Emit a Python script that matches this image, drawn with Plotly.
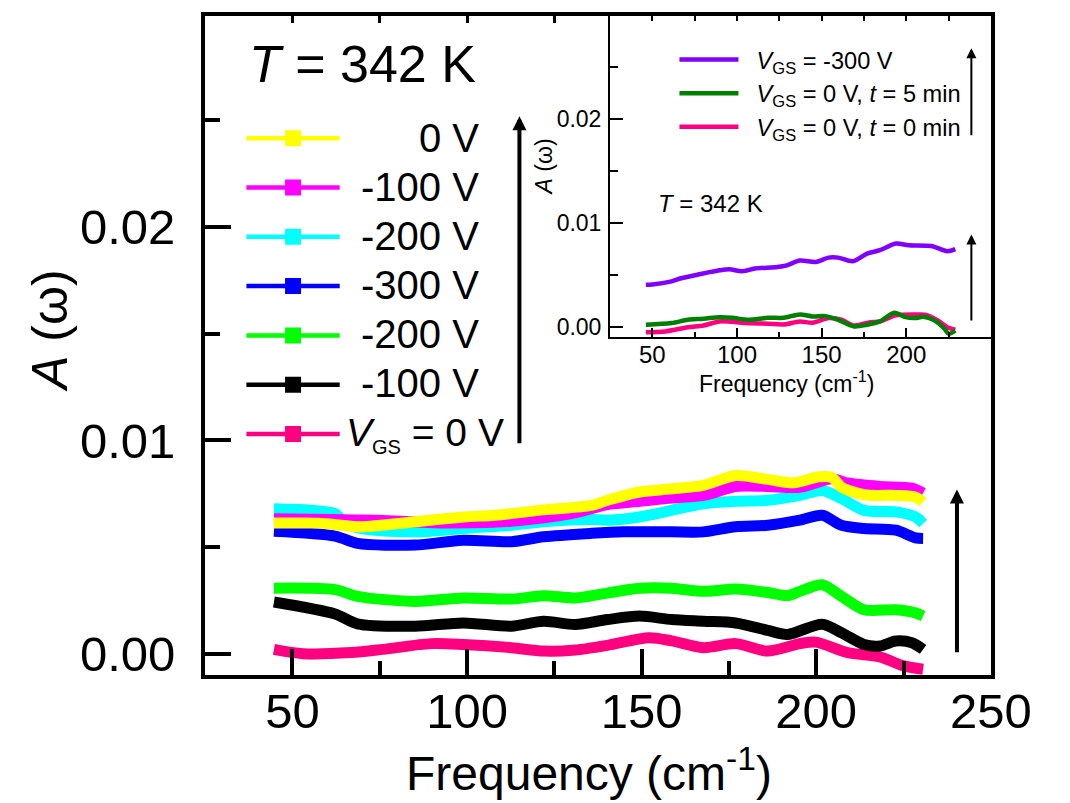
import plotly.graph_objects as go

W, H = 1070, 803
FONT = "Arial, Liberation Sans, sans-serif"

def fx(p):
    return p / W

def fy(p):
    return 1 - p / H

# ---------------- main panel data (frequency in cm^-1, A(omega)) ----------------
f_yellow = [44.7, 57.6, 64.0, 69.6, 85.1, 98.9, 108.1, 121.9, 135.6, 140.2, 149.4, 158.6, 167.7,
            176.9, 186.1, 193.5, 200.8, 204.5, 207.2, 213.7, 222.8, 228.4, 230.6]
a_yellow = [0.00612, 0.00612, 0.00602, 0.00595, 0.00618, 0.00641, 0.00649, 0.00674, 0.00695, 0.00719,
            0.00758, 0.00773, 0.00789, 0.00835, 0.00817, 0.00801, 0.00829, 0.00826, 0.00781, 0.00745,
            0.00742, 0.00734, 0.00711]

f_magenta = [44.7, 75.9, 94.3, 112.7, 131.0, 140.2, 149.4, 158.6, 167.7, 176.9, 186.1, 195.3, 204.5,
             209.0, 218.2, 227.4, 230.6]
a_magenta = [0.00632, 0.00624, 0.00613, 0.00621, 0.00660, 0.00699, 0.00714, 0.00730, 0.00742, 0.00784,
             0.00784, 0.00780, 0.00820, 0.00800, 0.00784, 0.00776, 0.00753]

f_cyan = [44.7, 62.2, 64.0, 68.6, 85.1, 98.9, 112.7, 121.9, 135.6, 140.2, 149.4, 158.6, 167.7, 176.9,
          186.1, 195.3, 201.7, 207.2, 213.7, 222.8, 228.4, 230.6]
a_cyan = [0.00679, 0.00657, 0.00630, 0.00590, 0.00571, 0.00587, 0.00602, 0.00618, 0.00629, 0.00626,
          0.00641, 0.00672, 0.00703, 0.00714, 0.00719, 0.00742, 0.00765, 0.00727, 0.00672, 0.00665,
          0.00641, 0.00610]

f_blue = [44.7, 62.2, 68.6, 85.1, 98.9, 112.7, 121.9, 135.6, 144.8, 158.6, 167.7, 176.9, 186.1, 195.3,
          201.7, 207.2, 213.7, 222.8, 228.4, 230.6]
a_blue = [0.00574, 0.00551, 0.00517, 0.00509, 0.00532, 0.00525, 0.00548, 0.00564, 0.00571, 0.00571,
          0.00571, 0.00595, 0.00602, 0.00626, 0.00649, 0.00602, 0.00587, 0.00579, 0.00543, 0.00540]

f_green = [44.7, 62.2, 68.6, 85.1, 98.9, 112.7, 121.9, 131.0, 140.2, 149.4, 158.6, 167.7, 176.9, 186.1,
           191.7, 195.3, 201.7, 207.2, 213.7, 222.8, 228.4, 230.6]
a_green = [0.00307, 0.00300, 0.00269, 0.00245, 0.00261, 0.00256, 0.00272, 0.00261, 0.00284, 0.00307,
           0.00307, 0.00292, 0.00303, 0.00287, 0.00272, 0.00292, 0.00323, 0.00269, 0.00206, 0.00206,
           0.00191, 0.00176]

f_black = [44.7, 62.2, 68.6, 85.1, 98.9, 112.7, 121.9, 131.0, 140.2, 149.4, 158.6, 167.7, 176.9, 186.1,
           191.7, 201.7, 207.2, 213.7, 218.2, 222.8, 227.4, 230.6]
a_black = [0.00242, 0.00186, 0.00140, 0.00129, 0.00144, 0.00129, 0.00152, 0.00137, 0.00160, 0.00176,
           0.00160, 0.00152, 0.00144, 0.00109, 0.00090, 0.00138, 0.00098, 0.00043, 0.00036, 0.00059,
           0.00051, 0.00020]

f_pink = [44.7, 53.0, 66.8, 75.9, 89.7, 98.9, 112.7, 121.9, 131.0, 140.2, 152.2, 158.6, 167.7, 176.9,
          186.1, 195.3, 199.9, 209.0, 218.2, 224.7, 230.6]
a_pink = [0.00020, 0.00000, 0.00005, 0.00020, 0.00047, 0.00043, 0.00028, 0.00012, 0.00017, 0.00039,
          0.00075, 0.00060, 0.00028, 0.00047, 0.00012, 0.00047, 0.00054, 0.00005, -0.00015, -0.00056,
          -0.00073]

main_series = [
    (f_pink, a_pink, "#FF0080",
     "<i>V</i><sub><span style='font-size:20px'>GS</span></sub> = 0 V"),
    (f_black, a_black, "#000000", "-100 V"),
    (f_green, a_green, "#00FF00", "-200 V"),
    (f_blue, a_blue, "#0000FF", "-300 V"),
    (f_cyan, a_cyan, "#00FFFF", "-200 V"),
    (f_magenta, a_magenta, "#FF00FF", "-100 V"),
    (f_yellow, a_yellow, "#FFFF00", "0 V"),
]

# ---------------- inset data ----------------
fi_purple = [46.2, 50.0, 61.4, 67.0, 78.4, 89.8, 95.5, 103.0, 110.6, 123.9, 129.5, 137.1, 146.6, 154.1,
             159.8, 168.4, 176.9, 184.5, 193.9, 201.5, 214.8, 224.3, 229.0]
ai_purple = [0.00408, 0.00410, 0.00440, 0.00470, 0.00510, 0.00546, 0.00556, 0.00537, 0.00563, 0.00578,
             0.00594, 0.00640, 0.00626, 0.00668, 0.00668, 0.00633, 0.00707, 0.00739, 0.00803, 0.00787,
             0.00780, 0.00730, 0.00750]

fi_green = [46.2, 61.4, 70.9, 80.3, 89.8, 97.3, 106.8, 118.2, 127.7, 137.1, 144.7, 152.3, 159.8, 169.3,
            176.9, 184.5, 193.0, 199.6, 205.3, 210.1, 216.6, 222.3, 225.2, 229.0]
ai_green = [0.00023, 0.00039, 0.00071, 0.00081, 0.00096, 0.00090, 0.00071, 0.00090, 0.00090, 0.00122,
            0.00103, 0.00106, 0.00071, 0.00007, 0.00023, 0.00055, 0.00139, 0.00096, 0.00087, 0.00100,
            0.00065, -0.00010, -0.00064, -0.00032]

fi_pink = [46.2, 57.6, 70.9, 80.3, 89.8, 104.9, 118.2, 127.7, 137.1, 144.7, 154.1, 161.8, 169.3, 178.8,
           184.5, 193.9, 205.3, 211.0, 218.6, 224.3, 229.0]
ai_pink = [-0.00048, -0.00041, 0.00000, 0.00016, 0.00055, 0.00039, 0.00033, 0.00026, 0.00055, 0.00042,
           0.00087, 0.00071, 0.00016, 0.00048, 0.00055, 0.00113, 0.00122, 0.00119, 0.00065, 0.00000,
           -0.00025]

GAP = "\u00a0\u00a0"
inset_series = [
    (fi_pink, ai_pink, "#FF0080", GAP + "<i>V</i><sub>GS</sub> = 0 V, <i>t</i> = 0 min"),
    (fi_green, ai_green, "#008000", GAP + "<i>V</i><sub>GS</sub> = 0 V, <i>t</i> = 5 min"),
    (fi_purple, ai_purple, "#8000FF", GAP + "<i>V</i><sub>GS</sub> = -300 V"),
]

x_ticks = [50, 100, 150, 200, 250]
main_top_ticks = [50, 75, 100, 125]
inset_x_ticks = [50, 100, 150, 200]
inset_top_ticks = [50, 75, 100, 125, 150, 175, 200, 225]
y_ticks = [0.0, 0.01, 0.02]
y_ticktext = ["0.00", "0.01", "0.02"]

fig = go.Figure()

for fr, a, col, name in main_series:
    fig.add_trace(go.Scatter(x=fr, y=a, mode="lines", xaxis="x", yaxis="y",
                             line=dict(color=col, width=11, shape="spline", smoothing=0.8),
                             showlegend=False, hoverinfo="skip"))

# legend-only entries (top to bottom); attached to the top tick axis so that it is drawn
for fr, a, col, name in reversed(main_series):
    fig.add_trace(go.Scatter(x=[None], y=[None], mode="lines+markers", xaxis="x3", yaxis="y",
                             line=dict(color=col, width=4.5),
                             marker=dict(symbol="square", size=16, color=col),
                             name="\u00a0", showlegend=True, legend="legend"))

for fr, a, col, name in inset_series:
    fig.add_trace(go.Scatter(x=fr, y=a, mode="lines", xaxis="x2", yaxis="y2",
                             line=dict(color=col, width=4.5, shape="spline", smoothing=0.8),
                             name=name, legend="legend2", hoverinfo="skip"))

# empty helper trace so the inset's top tick axis is drawn
fig.add_trace(go.Scatter(x=[None], y=[None], mode="lines", xaxis="x4", yaxis="y2",
                         showlegend=False, hoverinfo="skip"))

axis_common = dict(showline=True, linecolor="black", mirror=True, showgrid=False,
                   zeroline=False, ticks="inside", tickcolor="black")
top_common = dict(side="top", showline=False, showgrid=False, zeroline=False, ticks="inside",
                  tickcolor="black", showticklabels=False, range=[25, 250], tickmode="array")

fig.update_layout(
    width=W, height=H,
    margin=dict(l=0, r=0, t=0, b=0),
    paper_bgcolor="white", plot_bgcolor="white",
    font=dict(family=FONT, color="black"),
    xaxis=dict(axis_common, domain=[fx(205), fx(1022)], range=[25, 250], anchor="y",
               tickvals=x_ticks, linewidth=4, ticklen=26, tickwidth=4,
               minor=dict(ticks="inside", ticklen=14, tickwidth=4, tickcolor="black", dtick=25, tick0=0),
               tickfont=dict(size=49), ticklabelstandoff=-10),
    xaxis3=dict(top_common, overlaying="x", anchor="y", tickvals=main_top_ticks,
                ticklen=7, tickwidth=3),
    yaxis=dict(axis_common, domain=[fy(672), fy(8)], range=[-0.001, 0.0299], anchor="x",
               tickvals=y_ticks, ticktext=y_ticktext, linewidth=4, ticklen=26, tickwidth=4,
               minor=dict(ticks="inside", ticklen=15, tickwidth=4, tickcolor="black", dtick=0.005, tick0=0),
               tickfont=dict(size=49), ticklabelstandoff=16),
    xaxis2=dict(axis_common, domain=[fx(626), fx(1022)], range=[25, 250], anchor="y2",
                tickvals=inset_x_ticks, linewidth=2, ticklen=9, tickwidth=2,
                minor=dict(ticks="inside", ticklen=5, tickwidth=2, tickcolor="black", dtick=25, tick0=0),
                tickfont=dict(size=24), ticklabelstandoff=-4),
    xaxis4=dict(top_common, overlaying="x2", anchor="y2", tickvals=inset_top_ticks,
                ticklen=5, tickwidth=2),
    yaxis2=dict(axis_common, domain=[fy(331), fy(8)], range=[-0.0009, 0.0299], anchor="x2",
                tickvals=y_ticks, ticktext=y_ticktext, linewidth=2, ticklen=13, tickwidth=2,
                minor=dict(ticks="inside", ticklen=8, tickwidth=2, tickcolor="black", dtick=0.005, tick0=0),
                tickfont=dict(size=23), ticklabelstandoff=2),
    legend=dict(x=fx(242.7), y=fy(101.4), xanchor="left", yanchor="top",
                bgcolor="rgba(0,0,0,0)", borderwidth=0, itemwidth=93.3,
                font=dict(family=FONT, size=35.6), traceorder="normal", itemsizing="trace"),
    legend2=dict(x=fx(693), y=fy(29.85), xanchor="left", yanchor="top",
                 bgcolor="rgba(0,0,0,0)", borderwidth=0, itemwidth=59,
                 font=dict(family=FONT, size=23.6), traceorder="reversed"),
)

annotations = []
# main legend text
rows = [131, 180.3, 229.6, 278.8, 328.1, 377.4]
for (fr, a, col, name), r in zip(list(reversed(main_series))[:6], rows):
    annotations.append(dict(xref="paper", yref="paper", x=fx(492), y=fy(r), xanchor="right",
                            yanchor="middle", text=name, showarrow=False, font=dict(size=40)))
annotations.append(dict(xref="paper", yref="paper", x=fx(349), y=fy(426.7), xanchor="left",
                        yanchor="middle", yshift=-3, text=main_series[0][3], showarrow=False,
                        font=dict(size=39)))
# titles and labels
annotations += [
    dict(xref="paper", yref="paper", x=fx(604), y=fy(768), xanchor="center", yanchor="middle",
         text="Frequency (cm<sup>-1</sup>)", showarrow=False, font=dict(size=48)),
    dict(xref="paper", yref="paper", x=fx(43), y=fy(325), xanchor="center", yanchor="middle",
         text="<i>A</i> (ω)", textangle=-90, showarrow=False, font=dict(size=50)),
    dict(xref="paper", yref="paper", x=fx(249), y=fy(56), xanchor="left", yanchor="middle",
         text="<i>T</i> = 342 K", showarrow=False, font=dict(size=52)),
    dict(xref="paper", yref="paper", x=fx(810), y=fy(376.5), xanchor="center", yanchor="middle",
         text="Frequency (cm<sup>-1</sup>)", showarrow=False, font=dict(size=23)),
    dict(xref="paper", yref="paper", x=fx(557), y=fy(160), xanchor="center", yanchor="middle",
         text="<i>A</i> (ω)", textangle=-90, showarrow=False, font=dict(size=23)),
    dict(xref="paper", yref="paper", x=fx(674), y=fy(197), xanchor="left", yanchor="middle",
         text="<i>T</i> = 342 K", showarrow=False, font=dict(size=24)),
]
# arrows
annotations += [
    dict(xref="x", yref="y", axref="x", ayref="y", x=240.3, y=0.0077, ax=240.3, ay=0.0,
         text="", showarrow=True, arrowhead=2, arrowsize=0.7, arrowwidth=4, arrowcolor="black"),
    dict(xref="x", yref="y", axref="x", ayref="y", x=115.0, y=0.0252, ax=115.0, ay=0.0098,
         text="", showarrow=True, arrowhead=2, arrowsize=0.7, arrowwidth=4, arrowcolor="black"),
    dict(xref="x2", yref="y2", axref="x2", ayref="y2", x=238.5, y=0.0268, ax=238.5, ay=0.0183,
         text="", showarrow=True, arrowhead=2, arrowsize=1, arrowwidth=2, arrowcolor="black"),
    dict(xref="x2", yref="y2", axref="x2", ayref="y2", x=238.5, y=0.0089, ax=238.5, ay=0.0005,
         text="", showarrow=True, arrowhead=2, arrowsize=1, arrowwidth=2, arrowcolor="black"),
]
fig.update_layout(annotations=annotations)

fig.write_html("out.html")
